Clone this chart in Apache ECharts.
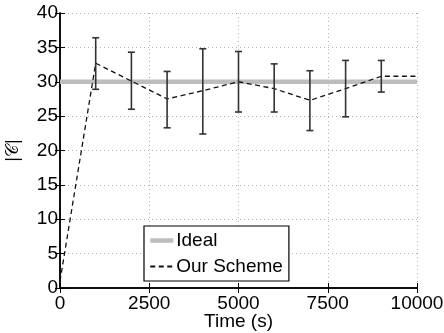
<!DOCTYPE html>
<html>
<head>
<meta charset="utf-8">
<script src="https://cdn.jsdelivr.net/npm/echarts@6/dist/echarts.min.js"></script>
<style>
  html, body { margin: 0; padding: 0; background: #fff; }
  #chart { width: 444px; height: 333px; }
</style>
</head>
<body>
<div id="chart"></div>
<script>
// Measured cardinality over time, with spread at each sampling instant
const sampleTimes = [1000, 2000, 3000, 4000, 5000, 6000, 7000, 8000, 9000];
const meanValues  = [32.7, 30.1, 27.5, 28.7, 30.0, 29.0, 27.3, 29.0, 30.8];
const upperValues = [36.4, 34.3, 31.5, 34.8, 34.4, 32.6, 31.6, 33.1, 33.1];
const lowerValues = [28.9, 26.0, 23.3, 22.4, 25.6, 25.6, 22.9, 24.9, 28.5];

// Scheme curve: starts near zero and holds the last value to the end
const schemeTimes  = [0].concat(sampleTimes, [10000]);
const schemeValues = [1.0].concat(meanValues, [30.8]);

// Ideal reference level
const idealLevel = 30;
const timeRange = [0, 10000];

const xTicks = [0, 2500, 5000, 7500, 10000];
const yTicks = [0, 5, 10, 15, 20, 25, 30, 35, 40];

const FONT = 'Liberation Sans, Arial, Helvetica, sans-serif';

const chart = echarts.init(document.getElementById('chart'), null, { renderer: 'canvas' });

const schemeData = schemeTimes.map((t, i) => [t, schemeValues[i]]);
const idealData = timeRange.map(t => [t, idealLevel]);
const errData = sampleTimes.map((t, i) => [t, lowerValues[i], upperValues[i]]);

const gridLine = { show: true, lineStyle: { color: '#b0b0b0', type: [1, 3], width: 1 } };

chart.setOption({
  animation: false,
  backgroundColor: '#fff',
  grid: { left: 60, right: 27, top: 13, bottom: 45, containLabel: false, outerBoundsMode: 'none' },
  legend: {
    data: [
      { name: 'Ideal', lineStyle: { width: 4.5, color: '#bdbdbd' } },
      { name: 'Our Scheme' }
    ],
    orient: 'vertical',
    left: 144,
    top: 226,
    itemWidth: 23,
    itemHeight: 10,
    itemGap: 7,
    padding: [5, 6, 5, 4],
    backgroundColor: '#fff',
    borderColor: '#000',
    borderWidth: 1.2,
    borderRadius: 0,
    itemStyle: { color: 'transparent', borderWidth: 0, opacity: 0 },
    textStyle: { fontFamily: FONT, fontSize: 19, color: '#000', padding: [0, 0, 0, -2] }
  },
  xAxis: [{
    type: 'value', min: timeRange[0], max: timeRange[1], interval: 2500,
    position: 'bottom',
    axisLine: { lineStyle: { color: '#000', width: 1.5 } },
    axisTick: { inside: true, length: 5, lineStyle: { color: '#000' } },
    axisLabel: { color: '#000', fontFamily: FONT, fontSize: 19, margin: 6,
      formatter: v => xTicks.includes(v) ? String(v) : '' },
    splitLine: gridLine,
    name: 'Time (s)', nameLocation: 'middle', nameGap: 24, nameMoveOverlap: false,
    nameTextStyle: { color: '#000', fontFamily: FONT, fontSize: 19, verticalAlign: 'top' }
  }, {
    type: 'value', min: timeRange[0], max: timeRange[1], interval: 2500,
    position: 'top',
    axisLine: { lineStyle: { color: '#000', width: 1.5 } },
    axisTick: { inside: true, length: 5, lineStyle: { color: '#000' } },
    axisLabel: { show: false },
    splitLine: { show: false }
  }],
  yAxis: [{
    type: 'value', min: 0, max: 40, interval: 5,
    position: 'left',
    axisLine: { show: true, lineStyle: { color: '#000', width: 1.5 } },
    axisTick: { show: true, inside: true, length: 5, lineStyle: { color: '#000' } },
    axisLabel: { color: '#000', fontFamily: FONT, fontSize: 19, margin: 2,
      formatter: v => yTicks.includes(v) ? String(v) : '' },
    splitLine: gridLine,
    name: '|𝒞|', nameLocation: 'middle', nameGap: 38, nameRotate: 90, nameMoveOverlap: false,
    nameTextStyle: { color: '#000', fontFamily: 'DejaVu Serif, serif', fontSize: 17 }
  }, {
    type: 'value', min: 0, max: 40, interval: 5,
    position: 'right',
    axisLine: { show: true, lineStyle: { color: '#000', width: 1.5 } },
    axisTick: { show: true, inside: true, length: 5, lineStyle: { color: '#000' } },
    axisLabel: { show: false },
    splitLine: { show: false }
  }],
  series: [{
    name: 'Ideal',
    type: 'line',
    data: idealData,
    showSymbol: false, symbol: 'none',
    lineStyle: { color: '#bdbdbd', width: 4.5 },
    itemStyle: { color: '#bdbdbd' },
    z: 2
  }, {
    name: 'Our Scheme',
    type: 'line',
    data: schemeData,
    showSymbol: false, symbol: 'none',
    lineStyle: { color: '#111', width: 1.3, type: [5, 3.5] },
    itemStyle: { color: '#111' },
    z: 3
  }, {
    name: 'spread',
    type: 'custom',
    data: errData,
    encode: { x: 0, y: [1, 2] },
    z: 4,
    renderItem: function (params, api) {
      const x = api.value(0);
      const lo = api.coord([x, api.value(1)]);
      const hi = api.coord([x, api.value(2)]);
      const half = 3.5;
      const style = { stroke: '#333', lineWidth: 1.6 };
      return {
        type: 'group',
        children: [
          { type: 'line', shape: { x1: lo[0], y1: lo[1], x2: hi[0], y2: hi[1] }, style },
          { type: 'line', shape: { x1: hi[0] - half, y1: hi[1], x2: hi[0] + half, y2: hi[1] }, style },
          { type: 'line', shape: { x1: lo[0] - half, y1: lo[1], x2: lo[0] + half, y2: lo[1] }, style }
        ]
      };
    }
  }]
});
</script>
</body>
</html>
